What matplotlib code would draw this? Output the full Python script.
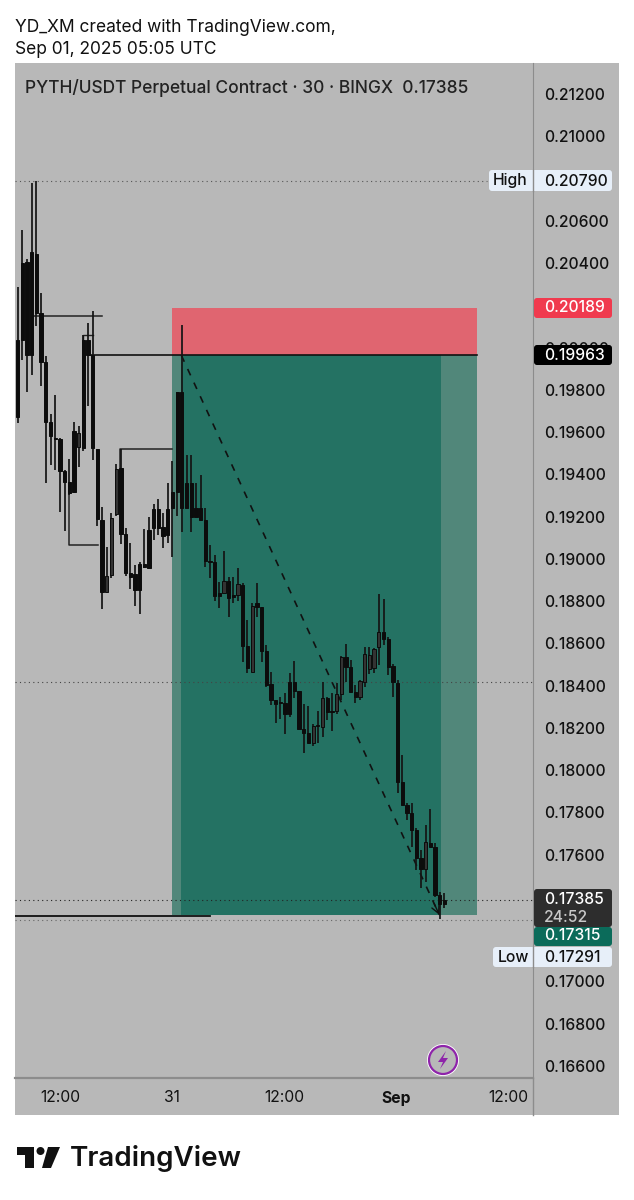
import matplotlib
matplotlib.use("Agg")
import matplotlib.pyplot as plt
from matplotlib.patches import Rectangle, Circle, FancyBboxPatch, Polygon
import numpy as np

plt.rcParams['font.family'] = ['Inter', 'DejaVu Sans']

# Here is the data (30m candles)
high = [.20287,.20556,.20419,.20779,.20788,.20258,.19960,.19686,.19775,.19572,.19420,.19473,.19648,.19629,.20059,.20116,.20173,.19520,.19245,.19056,.19217,.19449,.19520,.19146,.19075,.18971,.18985,.19141,.19198,.19260,.19283,.19217,.19359,.19463,.19790,.20107,.19491,.19491,.19359,.19397,.19241,.19066,.19018,.18890,.19037,.18914,.18914,.18957,.18886,.18711,.18791,.18886,.18772,.18592,.18464,.18332,.18346,.18365,.18460,.18517,.18374,.18313,.18304,.18218,.18280,.18417,.18346,.18365,.18412,.18540,.18597,.18521,.18403,.18427,.18583,.18583,.18578,.18834,.18810,.18630,.18502,.18427,.18072,.17844,.17844,.17726,.17622,.17740,.17816,.17655,.17423,.17418]
body_top = [.20036,.20400,.20405,.20452,.20443,.20164,.19932,.19648,.19572,.19567,.19416,.19364,.19605,.19596,.20036,.20036,.19965,.19520,.19184,.18919,.19193,.19425,.19430,.19118,.18933,.18928,.18976,.18976,.19137,.19236,.19236,.19151,.19236,.19316,.19790,.19790,.19359,.19359,.19241,.19241,.19184,.18990,.18985,.18838,.18895,.18895,.18829,.18881,.18876,.18587,.18777,.18791,.18772,.18564,.18408,.18332,.18323,.18318,.18417,.18417,.18374,.18195,.18176,.18209,.18214,.18341,.18341,.18280,.18360,.18535,.18535,.18488,.18370,.18422,.18550,.18545,.18573,.18654,.18654,.18621,.18493,.18412,.17944,.17835,.17797,.17717,.17584,.17660,.17655,.17636,.17409,.17385]
body_bot = [.19671,.20036,.19965,.19965,.20164,.19932,.19648,.19581,.19567,.19416,.19364,.19312,.19316,.19529,.19525,.19965,.19525,.19189,.18843,.18843,.18924,.19212,.19118,.18933,.18914,.18852,.18852,.18962,.18957,.19146,.19146,.19108,.19113,.19241,.19316,.19241,.19241,.19198,.19198,.19184,.18990,.18985,.18824,.18824,.18838,.18815,.18819,.18829,.18587,.18483,.18464,.18772,.18564,.18403,.18332,.18313,.18318,.18266,.18266,.18374,.18195,.18176,.18128,.18128,.18209,.18204,.18275,.18275,.18280,.18360,.18488,.18370,.18346,.18346,.18417,.18479,.18483,.18583,.18621,.18488,.18417,.17944,.17835,.17797,.17717,.17584,.17532,.17532,.17636,.17409,.17366,.17366]
low = [.19643,.19941,.19790,.19870,.20102,.19818,.19359,.19444,.19420,.19222,.19132,.19302,.19312,.19435,.19510,.19723,.19468,.19155,.18763,.18843,.18909,.19203,.19070,.18919,.18857,.18777,.18739,.18957,.18957,.19089,.19113,.19051,.19075,.19009,.19203,.19127,.19241,.19127,.19198,.19184,.18962,.18909,.18800,.18767,.18838,.18725,.18791,.18800,.18512,.18460,.18464,.18725,.18512,.18393,.18308,.18223,.18242,.18171,.18252,.18341,.18195,.18081,.18128,.18114,.18128,.18157,.18237,.18185,.18266,.18332,.18417,.18365,.18318,.18332,.18393,.18455,.18460,.18498,.18592,.18450,.18346,.17892,.17835,.17764,.17636,.17527,.17442,.17470,.17636,.17400,.17295,.17347]
up_candles = [13, 19, 20, 21, 44, 47, 50, 63, 65, 68, 69, 73, 74, 75, 76, 77, 87]

price_ticks = [.212,.210,.206,.204,.200,.198,.196,.194,.192,.190,.188,.186,.184,.182,.180,.178,.176,.170,.168,.166]
time_ticks = [9.03, 32.9, 56.8, 80.7, 104.7]
time_labels = ['12:00', '31', '12:00', 'Sep', '12:00']

entry = 0.19963
stop = 0.20189
target = 0.17315
last = 0.17385
day_high = 0.20790
day_low = 0.17291

W, H = 634, 1200
fig = plt.figure(figsize=(W/100, H/100), dpi=100, facecolor='white')

# overlay in pixels for panel and badges
bg = fig.add_axes([0, 0, 1, 1], zorder=0)
bg.set_xlim(0, W); bg.set_ylim(H, 0); bg.axis('off')
bg.add_patch(Rectangle((15, 63), 604, 1052, fc='#b8b8b8', ec='none'))
bg.plot([533, 533], [1078, 1115], color='#8c8c8c', lw=1)

ax = fig.add_axes([15/W, 1-1078/H, (533-15)/W, (1078-63)/H], zorder=1)
ax.patch.set_alpha(0)
ax.set_xlim(-0.57, 109.87)
ax.set_ylim(0.21645-1078*0.00004733, 0.21645-63*0.00004733)
for s in ['top', 'left']:
    ax.spines[s].set_visible(False)
ax.spines['right'].set_color('#8c8c8c')
ax.spines['bottom'].set_color('#8c8c8c')
ax.spines['bottom'].set_linewidth(1.6)
ax.yaxis.tick_right()
ax.set_yticks(price_ticks)
ax.set_yticklabels(['%.5f' % p for p in price_ticks], fontsize=11.3, color='#111111', fontweight='medium')
ax.set_xticks(time_ticks)
ax.set_xticklabels(time_labels, fontsize=11.3, color='#111111')
ax.get_xticklabels()[3].set_fontweight('bold')
ax.tick_params(axis='y', length=0, pad=8)
ax.tick_params(axis='x', length=0, pad=9)

# position tool
ax.add_patch(Rectangle((32.94, entry), 65, stop-entry, fc='#e06570', ec='none', zorder=1))
ax.add_patch(Rectangle((32.94, target), 65, entry-target, fc='#51877a', ec='none', zorder=1))
ax.add_patch(Rectangle((34.85, target), 55.3, entry-target, fc='#247263', ec='none', zorder=1.1))

# dotted levels
ax.plot([-0.57, 100], [day_high]*2, color='#555555', lw=0.8, ls=(0, (1, 3)), zorder=1.5)
ax.plot([-0.57, 109.87], [day_low]*2, color='#666666', lw=0.8, ls=(0, (1, 3)), zorder=1.5)
ax.plot([-0.57, 109.87], [last]*2, color='#222222', lw=0.8, ls=(0, (1, 3)), zorder=1.5)
ax.plot([-0.57, 109.87], [0.18417]*2, color='#444444', lw=0.8, ls=(0, (1, 3)), zorder=1.5)

# drawn lines
ax.plot([15.5, 97.94], [entry]*2, color='#111111', lw=1.2, zorder=2)
ax.plot([3.5, 18], [0.20150]*2, color='#222222', lw=1.1, zorder=2)
ax.plot([21.9, 21.9, 32.9], [0.19430, 0.19520, 0.19520], color='#222222', lw=1.1, zorder=2)
ax.plot([10.9, 10.9, 17.2], [0.19316, 0.19066, 0.19066], color='#222222', lw=1.1, zorder=2)
ax.plot([14, 14, 16], [0.20036, 0.20059, 0.20059], color='#222222', lw=1.0, zorder=2)
ax.plot([-0.57, 41], [0.17310]*2, color='#111111', lw=1.3, zorder=2)
ax.plot([34.9, 89.9], [entry, target], color='#111111', lw=1.2, ls=(0, (4.2, 4.8)), zorder=2)
ax.annotate('', xy=(89.9, target), xytext=(88.8, target+0.00053),
            arrowprops=dict(arrowstyle='->', color='#111111', lw=1.0, mutation_scale=14, shrinkA=0, shrinkB=0), zorder=2)

# candles
x = np.arange(len(high))
h = np.array(high); l = np.array(low); t = np.array(body_top); b = np.array(body_bot)
colors = ['#333333' if i in up_candles else '#0c0c0c' for i in x]
ax.vlines(x, l, h, color='#141414', lw=1.25, zorder=3)
ax.bar(x, t-b, 0.7, bottom=b, color=colors, edgecolor='#0c0c0c', linewidth=0.7, zorder=4)

# chrome on top
top = fig.add_axes([0, 0, 1, 1], zorder=2)
top.set_xlim(0, W); top.set_ylim(H, 0); top.axis('off')
top.patch.set_alpha(0)


def badge(x0, y0, x1, y1, color):
    top.add_patch(FancyBboxPatch((x0+2, y0+2), x1-x0-4, y1-y0-4, boxstyle='round,pad=2,rounding_size=3',
                                 fc=color, ec='none'))


def val(y, s, color='#111111', size=11.3):
    top.text(544, y, s, color=color, fontsize=size, fontweight='medium', ha='left', va='center')


badge(489, 170, 612, 191, '#e7eff9')
top.plot([533, 533], [170, 191], color='#8c8c8c', lw=1)
top.text(510, 180, 'High', fontsize=11.3, color='#111111', fontweight='medium', ha='center', va='center')
val(181, '0.20790')
badge(534, 298, 612, 318, '#f03a4e')
val(308, '0.20189', 'white')
badge(534, 345, 612, 365, '#000000')
val(355, '0.19963', 'white')
badge(534, 889, 612, 927, '#2d2d2d')
val(900, '0.17385', 'white')
val(917, '24:52', '#c8c8c8')
badge(534, 927, 612, 946, '#0b6b5a')
val(936, '0.17315', 'white')
badge(493, 947, 612, 967, '#e7eff9')
top.plot([533, 533], [947, 967], color='#8c8c8c', lw=1)
top.text(513, 957, 'Low', fontsize=11.3, color='#111111', fontweight='medium', ha='center', va='center')
val(957, '0.17291')

# lightning icon
top.add_patch(Circle((443, 1060), 16, fc='white', ec='none'))
top.add_patch(Circle((443, 1060), 14, fc='#b8b8b8', ec='#8e24aa', lw=1.6))
top.add_patch(Polygon([[446, 1051], [438, 1062], [443, 1062], [440, 1069], [448, 1058], [443, 1058]], fc='#8e24aa', ec='none'))

# header text
top.text(15, 27, 'YD_XM created with TradingView.com,', fontsize=12.5, color='#111111', va='center')
top.text(15, 49, 'Sep 01, 2025 05:05 UTC', fontsize=12.5, color='#111111', va='center')
top.text(25, 88, 'PYTH/USDT Perpetual Contract · 30 · BINGX  0.17385', fontsize=12.5, color='#222222', fontweight='medium', va='center')

# logo
top.add_patch(Polygon([[17, 1147], [34, 1147], [34, 1168], [25, 1168], [25, 1155], [17, 1155]], fc='#111111', ec='none'))
top.add_patch(Circle((40.5, 1151), 4, fc='#111111', ec='none'))
top.add_patch(Polygon([[48, 1147], [60, 1147], [51, 1168], [42, 1168]], fc='#111111', ec='none'))
top.text(70, 1158, 'TradingView', fontsize=20, color='#111111', fontweight='semibold', va='center')

fig.savefig('out.png', dpi=100)
